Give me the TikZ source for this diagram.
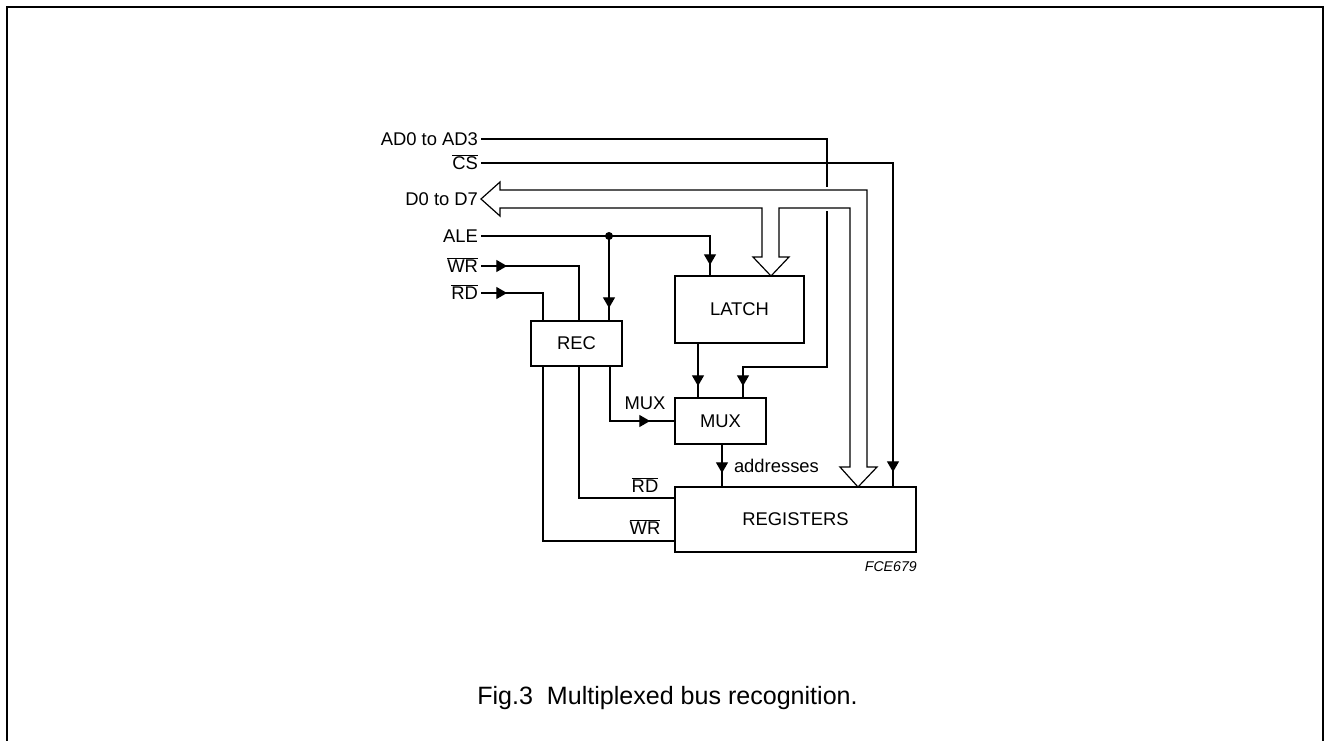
\documentclass[tikz,border=0pt]{standalone}
\usepackage{fontspec}
\setmainfont{Liberation Sans}
\usetikzlibrary{arrows.meta,decorations.markings}
\newcommand\ovl[1]{$\overline{\mbox{#1}}$}
\begin{document}
\begin{tikzpicture}[x=0.75pt,y=-0.75pt,
  txt/.style={font=\fontsize{13.8pt}{16pt}\selectfont},
  lbl/.style={txt, inner sep=0pt, outer sep=2.25pt, text height=12.75pt, text depth=3pt},
  box/.style={txt, draw, line width=2.1pt, inner sep=0pt, outer sep=0pt},
  wire/.style={line width=0.9pt},
  bus/.style={line width=0.9pt, line join=miter},
  dotnode/.style={circle, fill, inner sep=0pt, minimum size=6pt},
  tipa/.style={postaction=decorate, decoration={markings,
     mark=at position #1 with {\arrow{Triangle[length=8pt,width=9pt]}}}}]
\useasboundingbox (0,0) rectangle (1329,740);
% frame
\draw[line width=1.5pt] (7,741) -- (7,7) -- (1323,7) -- (1323,741);

% boxes
\node[box, minimum width=68.25pt, minimum height=33.75pt] (rec) at (576.5,343.5) {REC};
\node[box, minimum width=96.75pt, minimum height=50.25pt] (latch) at (739.5,309.5) {LATCH};
\node[box, minimum width=68.25pt, minimum height=34.5pt] (mux) at (720.5,421) {MUX};
\node[box, minimum width=180.75pt, minimum height=48.75pt] (regs) at (795.5,519.5) {REGISTERS};

% input labels
\node[lbl, anchor=east] (lad) at (481,139) {AD0 to AD3};
\node[lbl, anchor=east] (lcs) at (481,163) {\ovl{CS}};
\node[lbl, anchor=east] (ld) at (481,199) {D0 to D7};
\node[lbl, anchor=east] (lale) at (481,236) {ALE};
\node[lbl, anchor=east] (lwr) at (481,266) {\ovl{WR}};
\node[lbl, anchor=east] (lrd) at (481,293) {\ovl{RD}};

% other labels
\node[lbl, outer sep=0pt] (lmux) at (645,403) {MUX};
\node[lbl, anchor=west, outer sep=0pt] (laddr) at (734,466) {addresses};
\node[lbl, outer sep=0pt] (lrd2) at (645,486) {\ovl{RD}};
\node[lbl, outer sep=0pt] (lwr2) at (645,528) {\ovl{WR}};
\node[anchor=east, inner sep=0pt, font=\fontsize{10.6pt}{12pt}\selectfont\itshape] (code) at (917,567) {FCE679};
\node[inner sep=0pt, font=\fontsize{18.8pt}{22pt}\selectfont] (cap) at (667.5,698) {Fig.3\ \ Multiplexed bus recognition.};

% junction
\node[dotnode] (j) at (609,236) {};

% AD0 to AD3 (with gap across the data bus)
\draw[wire] (lad.east) -- (827,139) -- (827,187);
\draw[wire, tipa=-9pt] (827,211) |- (743,367) -- (743,0 |- mux.north);
% CS
\draw[wire, tipa=-11.25pt] (lcs.east) -| (893,0 |- regs.north);
% ALE
\draw[wire, tipa=-8.25pt] (lale.east) -| (710,0 |- latch.north);
\draw[wire, tipa=-9.75pt] (j.center) -- (609,0 |- rec.north);
% WR, RD inputs
\draw[wire, tipa=19.5pt] (lwr.east) -| (579,0 |- rec.north);
\draw[wire, tipa=19.5pt] (lrd.east) -| (543,0 |- rec.north);
% REC to REGISTERS
\draw[wire] (579,0 |- rec.south) |- (regs.west |- 0,498);
\draw[wire] (543,0 |- rec.south) |- (regs.west |- 0,541);
% REC to MUX
\draw[wire, tipa=-18.75pt] (610,0 |- rec.south) |- (mux.west);
% LATCH to MUX
\draw[wire, tipa=-9pt] (698,0 |- latch.south) -- (698,0 |- mux.north);
% MUX to REGISTERS
\draw[wire, tipa=-10.5pt] (722,0 |- mux.south) -- (722,0 |- regs.north);

% data bus D0 to D7
\draw[bus] (877,467) -- (867,467) -- (867,190) -- (500,190) -- (500,182)
  -- (481,199) -- (500,216) -- (500,208) -- (762,208) -- (762,257)
  -- (753,257) -- (771,0 |- latch.north) -- (789,257) -- (779,257)
  -- (779,208) -- (850,208) -- (850,467) -- (840,467)
  -- (858,0 |- regs.north) -- cycle;
\end{tikzpicture}
\end{document}
